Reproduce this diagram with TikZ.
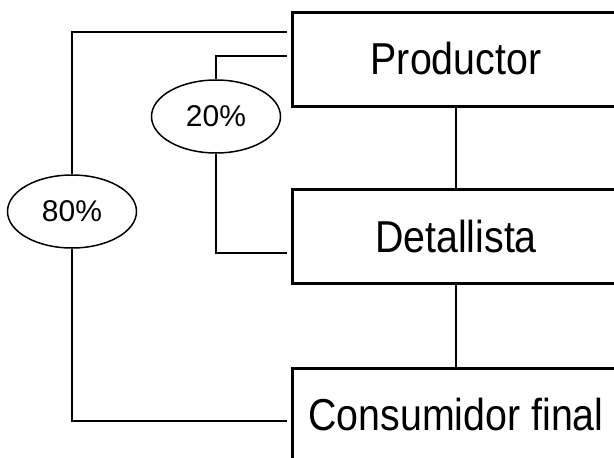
\documentclass[tikz,border=0pt]{standalone}
\usepackage{fontspec}
\setmainfont{Liberation Sans}
\newfontfamily\narrowsf[FakeStretch=0.88]{Liberation Sans}
\usetikzlibrary{shapes.geometric}
\tikzset{
    levelbox/.style={rectangle,draw,line width=3pt,minimum width=328pt,minimum height=94pt,
        inner sep=0pt,font=\narrowsf\fontsize{44.7}{50}\selectfont},
    share/.style={ellipse,draw,line width=1.5pt,minimum width=129pt,minimum height=73pt,
        inner sep=0pt,font=\fontsize{30}{34}\selectfont},
    link/.style={draw,line width=1.8pt},
    elbow/.style={draw,line width=1.8pt,shorten >=4pt},
}
\begin{document}
\begin{tikzpicture}[x=1pt,y=-1pt]
\useasboundingbox (0,0) rectangle (614,458);
\clip (0,0) rectangle (614,458);
\node[levelbox] (prod) at (456,59) {Productor};
\node[levelbox] (det) at (456,236.5) {Detallista};
\node[levelbox] (cons) at (456,415) {Consumidor final};
\node[share] (p20) at (216,116.5) {20\%};
\node[share] (p80) at (72,211.5) {80\%};
\path[link]
    (prod.south) -- (det.north)
    (det.south) -- (cons.north)
;
\draw[elbow] (p80.north) |- ([yshift=27pt]prod.west);
\draw[elbow] (p20.north) |- ([yshift=3pt]prod.west);
\draw[elbow] (p20.south) |- ([yshift=-16.5pt]det.west);
\draw[elbow] (p80.south) |- ([yshift=-6pt]cons.west);
\end{tikzpicture}
\end{document}
